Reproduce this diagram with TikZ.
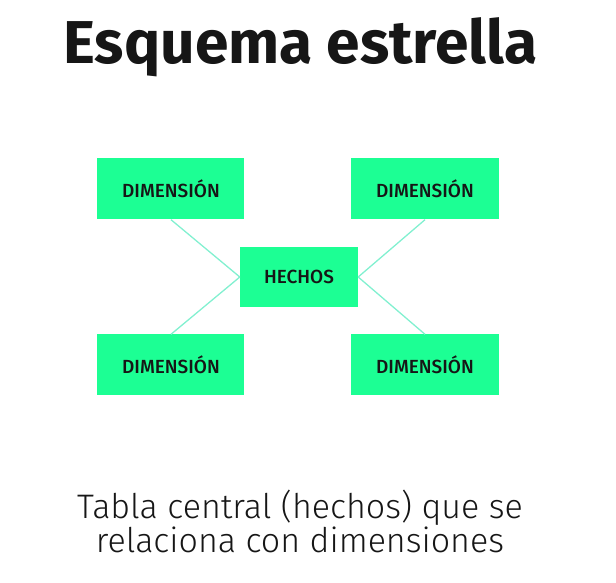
\documentclass[tikz,border=0pt]{standalone}
\usepackage{fontspec}
\setmainfont{Fira Sans}
\newfontfamily\ligera{Fira Sans Light}
\newfontfamily\media{Fira Sans Medium}
\usetikzlibrary{positioning}
\definecolor{verdetabla}{RGB}{28,255,148}
\definecolor{lineaclara}{RGB}{130,240,208}
\definecolor{tinta}{RGB}{22,22,22}

\begin{document}
\begin{tikzpicture}[
  node distance=88pt and 127pt, on grid,
  % Tablas = rectangulos verdes sin borde
  tabla/.style={rectangle, fill=verdetabla, minimum width=147pt, minimum height=61pt, align=center, text=tinta, font=\media\fontsize{19}{22}\selectfont},
  % Tabla central de hechos = algo mas estrecha
  hecho/.style={tabla, minimum width=118pt, minimum height=60pt},
  enlace/.style={draw=lineaclara, line width=1.3pt}
]
\useasboundingbox (-299pt,-306pt) rectangle (317pt,277pt);

% ---- Titulo ----
\node[anchor=base, text=tinta, font=\bfseries\fontsize{60.5}{62}\selectfont] (titulo) at (1.5pt,213pt) {Esquema estrella};

% ---- Tabla de hechos (centro) ----
\node[hecho] (hechos) at (0,0) {HECHOS};

% ---- Dimensiones ----
\node[tabla, above left=88pt and 128pt of hechos] (dim1) {DIMENSIÓN};
\node[tabla, above right=88pt and 126pt of hechos] (dim2) {DIMENSIÓN};
\node[tabla, below left=88pt and 128pt of hechos] (dim3) {DIMENSIÓN};
\node[tabla, below right=88pt and 126pt of hechos] (dim4) {DIMENSIÓN};

% ---- Enlaces ----
\draw[enlace] (dim1.south) -- (hechos.west);
\draw[enlace] (dim3.north) -- (hechos.west);
\draw[enlace] (dim2.south) -- (hechos.east);
\draw[enlace] (dim4.north) -- (hechos.east);

% ---- Pie ----
\node[anchor=base, align=center, text=tinta, font=\ligera\fontsize{34}{32}\selectfont] (pie) at (1pt,-275pt) {Tabla central (hechos) que se\\relaciona con dimensiones};

\end{tikzpicture}
\end{document}
